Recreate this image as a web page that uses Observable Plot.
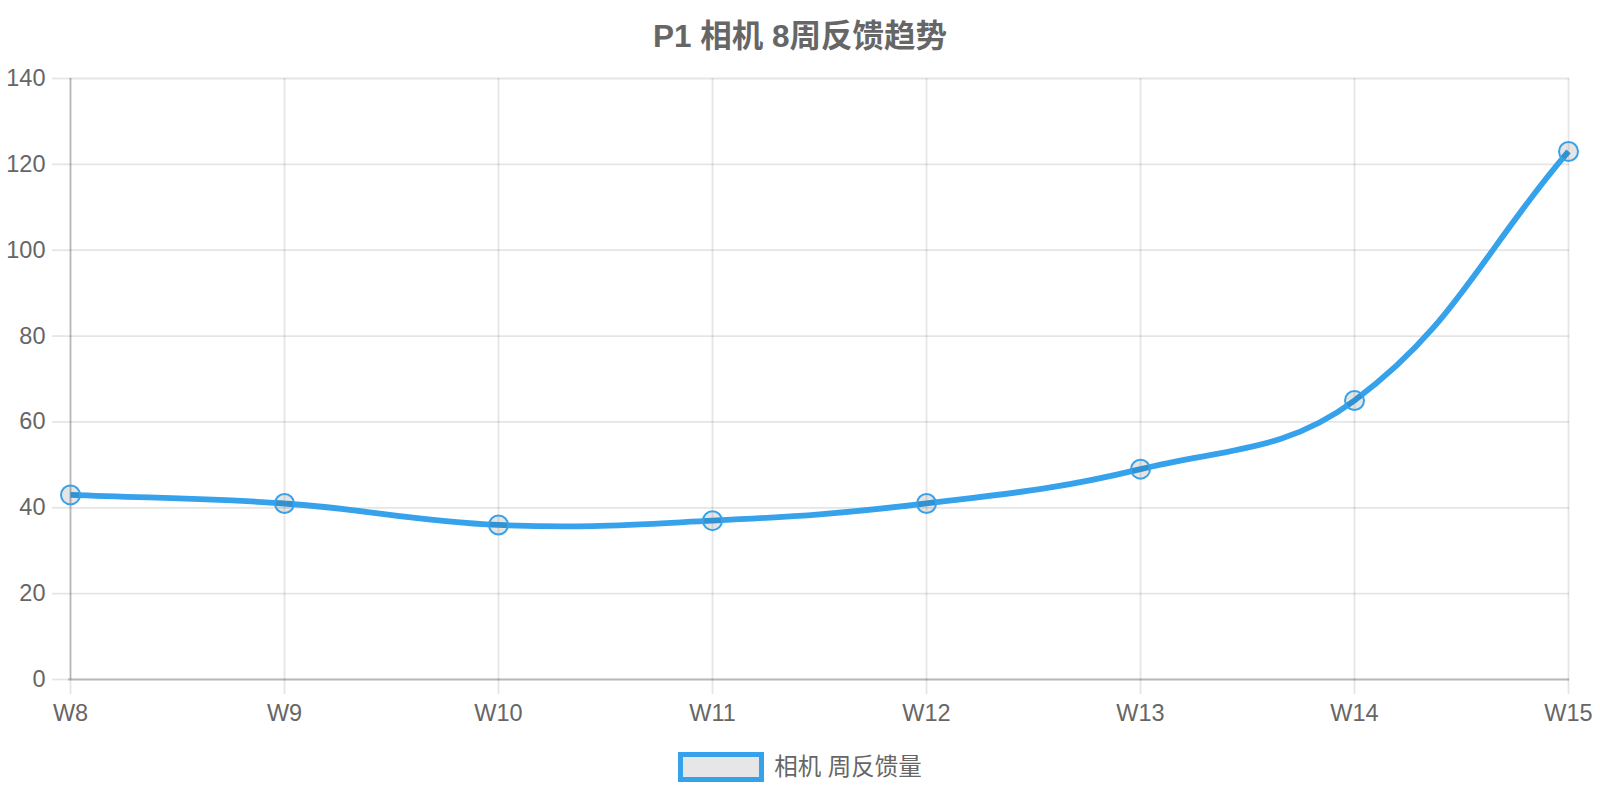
<!DOCTYPE html>
<html>
<head>
<meta charset="utf-8">
<script src="https://cdn.jsdelivr.net/npm/d3@7"></script>
<script src="https://cdn.jsdelivr.net/npm/@observablehq/plot@0.6"></script>
<style>
  html, body { margin: 0; padding: 0; background: #fff; }
  body { width: 1600px; font-family: "Liberation Sans", Arial, "Noto Sans CJK SC", sans-serif; color: #666; }
  #title { height: 44px; padding-top: 16px; line-height: 40px; text-align: center; font-weight: bold; font-size: 31.5px; color: #666; }
  #legend { height: 48px; display: flex; justify-content: center; align-items: flex-start; padding-top: 12px; box-sizing: border-box; }
  #legend .box { width: 76px; height: 20px; border: 5px solid #36A2EB; background: #e6e6e6; }
  #legend .lab { margin-left: 10px; font-size: 23.5px; line-height: 30px; color: #666; }
</style>
</head>
<body>
<div id="title"></div>
<div id="chart"></div>
<div id="legend"><span class="box"></span><span class="lab"></span></div>
<script>
const titleText = "P1 相机 8周反馈趋势";
const seriesName = "相机 周反馈量";
const weeks = ["W8", "W9", "W10", "W11", "W12", "W13", "W14", "W15"];
const counts = [43, 41, 36, 37, 41, 49, 65, 123];
const yTicks = [0, 20, 40, 60, 80, 100, 120, 140];

document.getElementById("title").textContent = titleText;
document.querySelector("#legend .lab").textContent = seriesName;

const data = weeks.map((w, i) => ({week: w, value: counts[i]}));

// Chart.js-style cubic spline (tension 0.4)
function chartjsCurve(context) {
  let pts = [];
  return {
    areaStart() {}, areaEnd() {},
    lineStart() { pts = []; },
    point(x, y) { pts.push([+x, +y]); },
    lineEnd() {
      const t = 0.4, n = pts.length;
      if (!n) return;
      const cps = pts.map((c, i) => {
        const p = pts[i - 1] || c, q = pts[i + 1] || c;
        const d01 = Math.hypot(c[0] - p[0], c[1] - p[1]);
        const d12 = Math.hypot(q[0] - c[0], q[1] - c[1]);
        let s01 = d01 / (d01 + d12), s12 = d12 / (d01 + d12);
        if (isNaN(s01)) s01 = 0;
        if (isNaN(s12)) s12 = 0;
        const fa = t * s01, fb = t * s12;
        return {
          px: c[0] - fa * (q[0] - p[0]), py: c[1] - fa * (q[1] - p[1]),
          qx: c[0] + fb * (q[0] - p[0]), qy: c[1] + fb * (q[1] - p[1])
        };
      });
      context.moveTo(pts[0][0], pts[0][1]);
      for (let i = 1; i < n; i++) {
        context.bezierCurveTo(cps[i - 1].qx, cps[i - 1].qy, cps[i].px, cps[i].py, pts[i][0], pts[i][1]);
      }
    }
  };
}

const gridStroke = "#000";
const chart = Plot.plot({
  width: 1600,
  height: 680,
  marginTop: 18,
  marginBottom: 61,
  marginLeft: 68,
  marginRight: 31,
  style: {
    fontFamily: '"Liberation Sans", Arial, "Noto Sans CJK SC", sans-serif',
    fontSize: "23.5px",
    color: "#666",
    background: "#fff",
    overflow: "visible"
  },
  x: {type: "point", domain: weeks, padding: 0, axis: null},
  y: {domain: [0, 140], axis: null},
  marks: [
    Plot.gridY(yTicks, {stroke: gridStroke, strokeOpacity: 0.1, strokeWidth: 1.8}),
    Plot.gridX(weeks, {stroke: gridStroke, strokeOpacity: 0.1, strokeWidth: 1.8}),
    Plot.axisY({ticks: yTicks, tickSize: 16, tickPadding: 7, stroke: gridStroke, strokeOpacity: 0.1, strokeWidth: 1.8, fill: "#666", label: null}),
    Plot.axisX({tickSize: 15, tickPadding: 10, stroke: gridStroke, strokeOpacity: 0.1, strokeWidth: 1.8, fill: "#666", label: null}),
    Plot.ruleY([0], {stroke: gridStroke, strokeOpacity: 0.2, strokeWidth: 1.8}),
    Plot.ruleX([weeks[0]], {stroke: gridStroke, strokeOpacity: 0.2, strokeWidth: 1.8}),
    Plot.line(data, {x: "week", y: "value", stroke: "#36A2EB", strokeWidth: 5.8, curve: chartjsCurve, strokeLinecap: "butt", strokeLinejoin: "miter"}),
    Plot.dot(data, {x: "week", y: "value", r: 9.5, fill: "rgba(0,0,0,0.1)", stroke: "#36A2EB", strokeWidth: 2})
  ]
});
document.getElementById("chart").appendChild(chart);
</script>
</body>
</html>
